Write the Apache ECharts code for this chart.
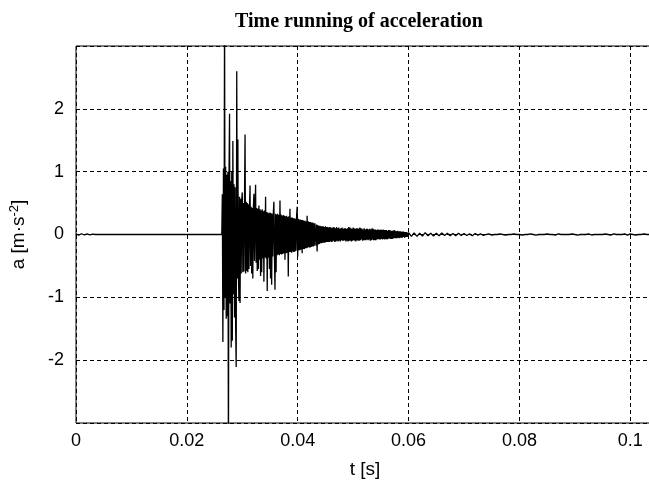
<!DOCTYPE html>
<html>
<head>
<meta charset="utf-8">
<script src="https://cdn.jsdelivr.net/npm/echarts@6/dist/echarts.min.js"></script>
<style>
  html, body { margin: 0; padding: 0; overflow: hidden; background: #fff; }
  #chart { width: 690px; height: 488px; }
</style>
</head>
<body>
<div id="chart"></div>
<script>
// quiet part before the impact, [t, a]
const lead = [
  [0, 0.01], [0.0005, -0.01], [0.001, 0.012], [0.0015, -0.008], [0.002, 0.01],
  [0.0025, -0.006], [0.003, 0.005], [0.0035, 0], [0.0263, 0]
];

// impact, sampled every denseStep from denseStart
const denseStart = 0.0264;
const denseStep = 0.0001;
const dense = [
  0.64, -1.71, 1.05, -1.2, 3.6, -1.0, 1.08, -1.34, 0.95, -1.3,
  1.0, -3.6, 0.9, 1.92, -1.1, 0.85, -1.8, 1.0, -1.69, 1.49,
  -0.95, 0.8, -1.32, 0.75, -1.45, -2.11, 2.60, -0.7, 1.51, -0.65,
  -1.06, 0.6, -1.09, 0.57, -0.62, 0.55, 0.67, -0.6, 0.5, -0.59,
  0.55, 1.59, -0.62, 0.52, -0.58, 0.5, -0.6, 0.48, -0.55, 0.45,
  0.78, -0.5, 0.44, -0.62, 0.42, -0.7, 0.43, 0.65, -0.42, 0.4,
  0.79, -0.45, 0.42, -0.58, 0.41, -0.55, 0.46, -0.4, 0.4, -0.66,
  0.38, -0.6, 0.4, -0.38, 0.37, -0.75, 0.38, -0.36, 0.6, -0.38,
  0.36, -0.9, 0.35, -0.37, 0.34, -0.55, 0.35, -0.7, 0.34, -0.8,
  0.33, -0.35, 0.34, 0.52, -0.34, -0.88, 0.33, -0.6, 0.32, -0.33,
  0.33, -0.32, 0.31, -0.33, 0.54, -0.31, 0.32, -0.32, 0.3, -0.31,
  0.31, -0.3, 0.3, -0.4, 0.29, -0.3, 0.3, -0.29, 0.28, -0.67,
  0.29, -0.28, 0.41, -0.28, 0.27, -0.29, 0.27, -0.27, 0.26, -0.28,
  0.26, -0.27, 0.25, -0.26, 0.3, 0.44, -0.35, 0.25, -0.25, 0.24,
  -0.25, 0.24, -0.24, 0.23, -0.3, 0.23, -0.23, 0.22, -0.23, 0.22,
  -0.22, 0.21, -0.22, 0.3, -0.21, 0.21, -0.2, 0.2, -0.21, 0.2,
  -0.2, 0.19, -0.19, 0.19, -0.19, 0.18, -0.18, 0.18, 0.17, -0.18,
  0.16, -0.27, 0.15, -0.16, 0.14, -0.15, 0.14, -0.14, 0.13, -0.14,
  0.13, -0.13, 0.13, -0.13, 0.12, -0.13, 0.13, -0.12, 0.12, -0.12,
  0.12, -0.12, 0.11, -0.12, 0.12, -0.11
];

// ringing, sampled every midStep from midStart
const midStart = 0.046;
const midStep = 0.0001;
const mid = [
  0.11, -0.12, 0.10, -0.11, 0.12, -0.10, 0.11, -0.12, 0.10, -0.11,
  0.12, -0.10, 0.10, -0.11, 0.11, -0.10, 0.09, -0.11, 0.10, -0.09,
  0.11, -0.10, 0.09, -0.10, 0.10, -0.09, 0.10, -0.11, 0.09, -0.10,
  0.10, -0.11, 0.12, -0.10, 0.11, -0.10, 0.10, -0.11, 0.09, -0.10,
  0.11, -0.09, 0.10, -0.10, 0.09, -0.11, 0.10, -0.09, 0.10, -0.10,
  0.09, -0.10, 0.11, -0.09, 0.10, -0.08, 0.09, -0.10, 0.08, -0.09,
  0.10, -0.09, 0.08, -0.09, 0.09, -0.08, 0.09, -0.09, 0.08, -0.08,
  0.09, -0.10, 0.08, -0.09, 0.10, -0.08, 0.09, -0.09, 0.08, -0.09,
  0.08, -0.09, 0.07, -0.08, 0.08, -0.07, 0.08, -0.08, 0.07, -0.08,
  0.08, -0.07, 0.07, -0.08, 0.08, -0.07, 0.07, -0.08, 0.07, -0.07,
  0.07, -0.08, 0.06, -0.07, 0.07, -0.06, 0.07, -0.07, 0.06, -0.07,
  0.06, -0.07, 0.06, -0.06, 0.07, -0.06, 0.06, -0.06, 0.05, -0.06,
  0.06, -0.05, 0.05, -0.06, 0.05, -0.05, 0.05, -0.05, 0.04, -0.05,
  0.05, -0.04, 0.04, -0.05, 0.04, -0.04, 0.04, -0.04, 0.03, -0.04
];

// decaying tail, sampled every tailStep from tailStart
const tailStart = 0.06;
const tailStep = 0.0005;
const tail = [
  0.03, -0.03, 0.025, -0.03, 0.02, -0.025, 0.03, -0.02, 0.02, -0.025,
  0.02, -0.02, 0.025, -0.015, 0.02, -0.02, 0.015, -0.02, 0.02, -0.015,
  0.015, -0.015, 0.01, -0.02, 0.015, -0.01, 0.01, -0.015, 0, 0.01,
  -0.01, 0, 0, 0.01, 0, -0.01, 0, 0, 0.008, 0,
  0, -0.008, 0, 0, 0.01, 0, -0.01, 0, 0, 0,
  0.008, 0, 0, -0.01, 0.01, 0, 0, 0, 0, 0.008,
  0, -0.01, 0, 0, 0, 0.01, -0.008, 0, 0, 0,
  0, 0.008, 0, -0.01, 0.01, 0, 0, 0, 0.01, -0.01,
  0.01, 0, -0.008, 0, 0, 0.01, 0, 0, -0.01, 0.008,
  0
];

const xTicks = [0, 0.02, 0.04, 0.06, 0.08, 0.1];
const yTicks = [-2, -1, 0, 1, 2];

const points = lead.slice();
dense.forEach((a, i) => points.push([denseStart + i * denseStep, a]));
mid.forEach((a, i) => points.push([midStart + i * midStep, a]));
tail.forEach((a, i) => points.push([tailStart + i * tailStep, a]));

function near(list, v) {
  return list.some(x => Math.abs(x - v) < 1e-9);
}

const sans = "Liberation Sans";
const chart = echarts.init(document.getElementById("chart"), null, { renderer: "canvas" });
chart.setOption({
  animation: false,
  title: [{
    text: "Time running of acceleration",
    left: 354,
    top: 7,
    textAlign: "center",
    textStyle: { fontFamily: "Liberation Serif", fontSize: 20, fontWeight: "bold", color: "#000" }
  }, {
    // x-axis label, centred like the original figure's xlabel
    text: "t [s]",
    left: 360,
    top: 455,
    textAlign: "center",
    textStyle: { fontFamily: sans, fontSize: 19, fontWeight: "normal", color: "#000" }
  }],
  grid: {
    left: 75, top: 46, bottom: 65, right: 32,
    show: true, borderColor: "#000", borderWidth: 1, backgroundColor: "#fff"
  },
  xAxis: {
    type: "value",
    min: 0, max: 0.105, interval: 0.02,
    axisLine: { show: false },
    axisTick: { show: false },
    axisLabel: {
      margin: 9,
      fontFamily: sans, fontSize: 18, color: "#000",
      formatter: v => near(xTicks, v) ? String(+v.toFixed(2)) : ""
    },
    splitLine: { show: true, lineStyle: { color: "#000", width: 1, type: [4, 3] } }
  },
  yAxis: {
    type: "value",
    min: -3, max: 3, interval: 1,
    name: "a [m·s{sup|-2}]",
    nameLocation: "middle",
    nameRotate: 90,
    nameGap: 46,
    nameTextStyle: {
      fontFamily: sans, fontSize: 19, color: "#000",
      rich: { sup: { fontFamily: sans, fontSize: 13, color: "#000", padding: [0, 0, 9, 0] } }
    },
    axisLine: { show: false },
    axisTick: { show: false },
    axisLabel: {
      margin: 12,
      fontFamily: sans, fontSize: 18, color: "#000",
      formatter: v => near(yTicks, v) ? String(v) : ""
    },
    splitLine: { show: true, lineStyle: { color: "#000", width: 1, type: [4, 3] } }
  },
  series: [{
    type: "line",
    data: points,
    showSymbol: false,
    clip: true,
    sampling: null,
    lineStyle: { color: "#000", width: 1.3 }
  }]
});
</script>
</body>
</html>
